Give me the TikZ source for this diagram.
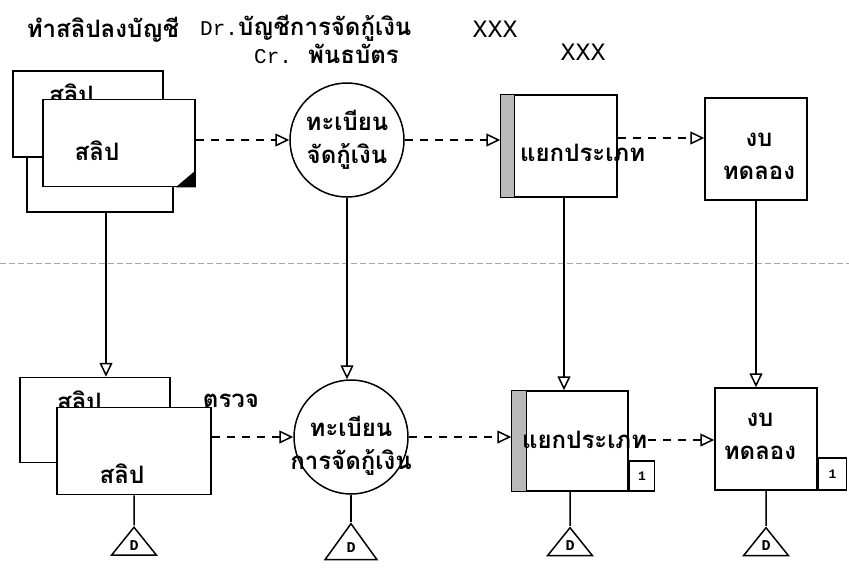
\documentclass[tikz,border=0pt]{standalone}
\usepackage{fontspec}
\setmainfont[Script=Thai]{Loma}
\newfontfamily\lat{Liberation Mono}
\usepackage{tikz}
\usetikzlibrary{arrows.meta,positioning,shapes.geometric}
\newcommand\thsize{\fontsize{24}{33}\selectfont\bfseries}

\begin{document}
\begin{tikzpicture}[x=1pt,y=-1pt,
  font=\thsize,
  slip/.style={draw,fill=white,line width=1.5pt,minimum width=150pt,minimum height=86pt},
  reg/.style={draw,circle,line width=1.5pt,minimum size=114pt,inner sep=0pt},
  book/.style={draw,line width=1.5pt,minimum width=116pt,minimum height=102pt},
  txt/.style={inner sep=1pt,align=center},
  band/.style={draw,line width=1.4pt,fill=gray!55},
  tag/.style={draw,line width=1.3pt,minimum width=25pt,minimum height=30pt,inner sep=0pt,font=\lat\bfseries\fontsize{13}{13}\selectfont},
  dstore/.style={draw,line width=1.5pt,isosceles triangle,shape border rotate=90,isosceles triangle stretches,
    minimum width=45pt,minimum height=28pt,inner sep=0pt,font=\lat\bfseries\fontsize{15}{15}\selectfont},
  flow/.style={line width=1.5pt,-{Triangle[open,length=14pt,width=13pt]}},
  dflow/.style={flow,dash pattern=on 8pt off 7pt}
]
\useasboundingbox (0,0) rectangle (849,568);

\node[txt] (job) at (103,30) {ทำสลิปลงบัญชี};
\node[txt,anchor=west] (dr) at (199,28) {{\lat\mdseries\fontsize{21}{21}\selectfont Dr.}บัญชีการจัดกู้เงิน};
\node[txt,font=\lat\mdseries\fontsize{25}{25}\selectfont] (x1) at (495,29) {XXX};
\node[txt,anchor=west] (cr) at (253,54) {{\lat\mdseries\fontsize{21}{21}\selectfont Cr.}\ \ พันธบัตร};
\node[txt,font=\lat\mdseries\fontsize{25}{25}\selectfont] (x2) at (583,52) {XXX};

\node[slip,minimum width=146pt,minimum height=82pt] (back2) at (100,171) {};
\node[slip] (back1) at (88,114) {};
\node[txt,anchor=west] (back1t) at (48,94) {สลิป};
\node[slip,minimum width=152pt,minimum height=87pt] (front) at (119,143) {};
\node[txt] (frontt) at (97,151) {สลิป};
\fill ([xshift=-20pt]front.south east) -- (front.south east) -- ([yshift=17pt]front.south east) -- cycle;

\node[reg] (reg1) at (347,140) {};
\node[txt] (reg1t) at (347,140) {ทะเบียน\\จัดกู้เงิน};

\node[book] (ledger) at (559,146) {};
\draw[band] (ledger.north west) rectangle ([xshift=14pt]ledger.south west);
\node[txt,anchor=west] (ledgert) at (519,153) {แยกประเภท};

\node[book,minimum width=102pt] (tb) at (756,149) {};
\node[txt] (tbt) at (759,156) {งบ\\ทดลอง};

\coordinate (sepL) at (0,263);
\coordinate (sepR) at (849,263);
\draw[gray!70,line width=1pt,dash pattern=on 6pt off 3pt] (sepL) -- (sepR);

\node[slip,minimum height=85pt] (bback) at (95,420) {};
\node[txt,anchor=west] (bbackt) at (56,401) {สลิป};
\node[txt] (check) at (231,401) {ตรวจ};
\node[slip,minimum width=154pt,minimum height=87pt] (bfront) at (134,451) {};
\node[txt] (bfrontt) at (122,474) {สลิป};

\node[reg] (reg2) at (351,437) {};
\node[txt] (reg2t) at (351,446) {ทะเบียน\\การจัดกู้เงิน};

\node[book,minimum height=100pt] (ledger2) at (570,441) {};
\draw[band] (ledger2.north west) rectangle ([xshift=15pt]ledger2.south west);
\node[txt,anchor=west] (ledger2t) at (521,440) {แยกประเภท};
\node[tag,anchor=south west] (n1) at (ledger2.south east) {1};

\node[book,minimum width=102pt] (tb2) at (766,439) {};
\node[txt] (tb2t) at (760,436) {งบ\\ทดลอง};
\node[tag,anchor=south west,minimum width=28pt,minimum height=32pt] (n2) at (tb2.south east) {1};

\node[dstore,below=30pt of bfront] (d1) {D};
\node[dstore,below=27pt of reg2,minimum width=52pt,minimum height=36pt] (d2) {D};
\node[dstore,below=34pt of ledger2] (d3) {D};
\node[dstore,below=35pt of tb2] (d4) {D};

\draw[dflow] (front.east |- reg1.west) -- (reg1.west);
\draw[dflow] (reg1.east) -- (reg1.east -| ledger.west);
\draw[dflow] ([yshift=8pt]ledger.east) -- ([yshift=8pt]ledger.east -| tb.west);
\draw[dflow] (bfront.east |- reg2.west) -- (reg2.west);
\draw[dflow] (reg2.east) -- (reg2.east -| ledger2.west);
\draw[dflow] (ledger2t.east) -- (ledger2t.east -| tb2.west);

\draw[flow] ([xshift=6pt]back2.south) -- ([xshift=6pt]back2.south |- bback.north);
\draw[flow] (reg1.south) -- (reg1.south |- reg2.north);
\draw[flow] ([xshift=5pt]ledger.south) -- ([xshift=5pt]ledger.south |- ledger2.north);
\draw[flow] (tb.south) -- (tb.south |- tb2.north);

\draw[line width=1.5pt] (bfront.south) -- (d1.apex);
\draw[line width=1.5pt] (reg2.south) -- (d2.apex);
\draw[line width=1.5pt] (ledger2.south) -- (d3.apex);
\draw[line width=1.5pt] (tb2.south) -- (d4.apex);
\end{tikzpicture}
\end{document}
